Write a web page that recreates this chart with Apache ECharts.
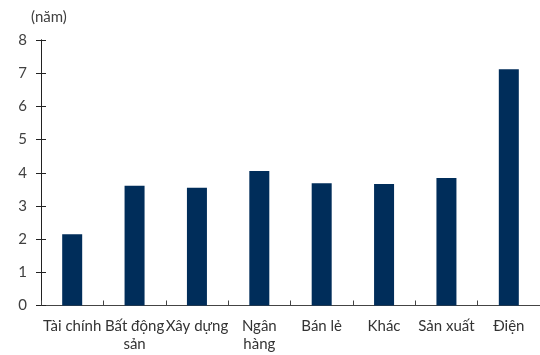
<!DOCTYPE html>
<html>
<head>
<meta charset="utf-8">
<script src="https://cdn.jsdelivr.net/npm/echarts@6/dist/echarts.min.js"></script>
<style>
  html, body { margin: 0; padding: 0; background: #fff; }
  #chart { width: 540px; height: 355px; }
</style>
</head>
<body>
<div id="chart"></div>
<script>
// Sectors and their values (years)
const categories = ['Tài chính', 'Bất động sản', 'Xây dựng', 'Ngân hàng', 'Bán lẻ', 'Khác', 'Sản xuất', 'Điện'];
const values = [2.15, 3.61, 3.55, 4.05, 3.68, 3.66, 3.84, 7.12];
const yTicks = [0, 1, 2, 3, 4, 5, 6, 7, 8];
const unitLabel = '(năm)';

// Two-line axis labels for the longer names
const wrapped = { 'Bất động sản': 'Bất động\nsản', 'Ngân hàng': 'Ngân\nhàng' };

const FONT = 'Lato';
const chart = echarts.init(document.getElementById('chart'), null, { renderer: 'canvas' });

const yBase = {
  type: 'value',
  min: yTicks[0],
  max: yTicks[yTicks.length - 1],
  interval: 1,
  splitLine: { show: false },
  axisLine: { show: true, lineStyle: { color: '#222', width: 1 } }
};

chart.setOption({
  animation: false,
  backgroundColor: '#fff',
  grid: { left: 41, right: -11, top: 40, bottom: 49.5, containLabel: false },
  graphic: [{
    type: 'text', left: 31, top: 10,
    style: { text: unitLabel, font: '15px ' + FONT, fill: '#404040' }
  }],
  xAxis: {
    type: 'category',
    data: categories,
    axisLine: { lineStyle: { color: '#444', width: 1 } },
    axisTick: { show: true, inside: true, length: 5, alignWithLabel: false, lineStyle: { color: '#444' } },
    axisLabel: {
      color: '#333', fontFamily: FONT, fontSize: 15, margin: 12, lineHeight: 18,
      interval: 0,
      formatter: v => wrapped[v] || v
    }
  },
  yAxis: [
    Object.assign({}, yBase, {
      axisTick: { show: true, length: 5, lineStyle: { color: '#222' } },
      axisLabel: { color: '#404040', fontFamily: FONT, fontSize: 15, margin: 14 }
    }),
    Object.assign({}, yBase, {
      position: 'left',
      axisTick: { show: true, inside: true, length: 5, lineStyle: { color: '#222' } },
      axisLabel: { show: false }
    })
  ],
  series: [{
    type: 'bar',
    data: values,
    barWidth: 20,
    itemStyle: { color: '#002d5a' }
  }]
});
</script>
</body>
</html>
